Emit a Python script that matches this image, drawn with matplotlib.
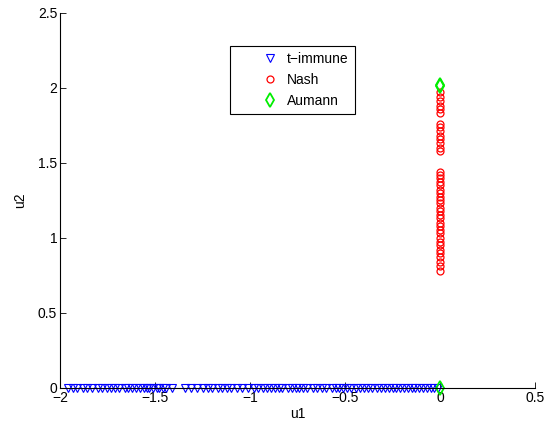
import matplotlib.pyplot as plt
from matplotlib.legend_handler import HandlerLine2D

plt.rcParams['font.family'] = ['Liberation Sans', 'DejaVu Sans']
plt.rcParams['font.size'] = 10

# t-immune points (u2 = 0)
timmune_u1 = [-1.96, -1.93, -1.91, -1.88, -1.86, -1.83, -1.80, -1.78, -1.75, -1.73,
              -1.71, -1.69, -1.66, -1.64, -1.62, -1.60, -1.58, -1.56, -1.54, -1.53,
              -1.51, -1.49, -1.48, -1.46, -1.44, -1.41, -1.34, -1.31, -1.28,
              -1.25, -1.22, -1.20, -1.17, -1.15, -1.12, -1.10, -1.07, -1.04, -1.01,
              -0.98, -0.96, -0.93, -0.91, -0.89, -0.87, -0.85, -0.83, -0.80, -0.78,
              -0.76, -0.74, -0.72, -0.70, -0.67, -0.65, -0.62, -0.60, -0.57, -0.55,
              -0.53, -0.51, -0.49, -0.47, -0.44, -0.42, -0.40, -0.38, -0.36, -0.33,
              -0.31, -0.29, -0.27, -0.25, -0.23, -0.21, -0.19, -0.17, -0.15, -0.13,
              -0.11, -0.09, -0.07, -0.05, -0.03, -0.01]
timmune_u2 = [0.0] * len(timmune_u1)

# Nash points (u1 = 0)
nash_u2 = [0.78, 0.81, 0.84, 0.87, 0.90, 0.92, 0.95, 0.97, 1.00, 1.03,
           1.05, 1.08, 1.10, 1.13, 1.15, 1.18, 1.20, 1.23, 1.25, 1.27,
           1.30, 1.32, 1.35, 1.37, 1.40, 1.42, 1.44, 1.58, 1.60, 1.63,
           1.66, 1.68, 1.71, 1.74, 1.76, 1.83, 1.86, 1.88, 1.91, 1.94, 1.97]
nash_u1 = [0.0] * len(nash_u2)

# Aumann points
aumann_u1 = [0.0, 0.0, 0.0]
aumann_u2 = [2.02, 2.01, 0.0]

fig = plt.figure(figsize=(5.45, 4.32), dpi=100)
ax = fig.add_axes([0.110, 0.102, 0.872, 0.868])

h1, = ax.plot(timmune_u1, timmune_u2, 'v', color='blue', mfc='none', ms=6, mew=0.8,
              clip_on=False, label='t\u2212immune')
h2, = ax.plot(nash_u1, nash_u2, 'o', color='red', mfc='none', ms=5, mew=0.9,
              clip_on=False, label='Nash')
h3, = ax.plot(aumann_u1, aumann_u2, 'd', color='#00ee00', mfc='none', ms=7, mew=1.3,
              clip_on=False, label='Aumann')

ax.set_xlim(-2, 0.5)
ax.set_ylim(0, 2.5)
ax.set_xticks([-2, -1.5, -1, -0.5, 0, 0.5])
ax.set_xticklabels(['\u22122', '\u22121.5', '\u22121', '\u22120.5', '0', '0.5'])
ax.set_yticks([0, 0.5, 1, 1.5, 2, 2.5])
ax.set_yticklabels(['0', '0.5', '1', '1.5', '2', '2.5'])
ax.tick_params(direction='in', length=4, width=0.6, pad=2)
ax.spines['top'].set_visible(False)
ax.spines['right'].set_visible(False)
ax.set_xlabel('u1', labelpad=2)
ax.set_ylabel('u2', labelpad=8)

hmap = {h: HandlerLine2D(xpad=1.6) for h in (h1, h2, h3)}
leg = ax.legend(handler_map=hmap, loc='upper left', bbox_to_anchor=(0.358, 0.912),
                borderaxespad=0, fancybox=False, edgecolor='black', framealpha=1,
                handletextpad=0.36, borderpad=0.45, labelspacing=0.5, handlelength=3.3)
leg.get_frame().set_linewidth(0.8)

fig.savefig('out.png', dpi=100)
